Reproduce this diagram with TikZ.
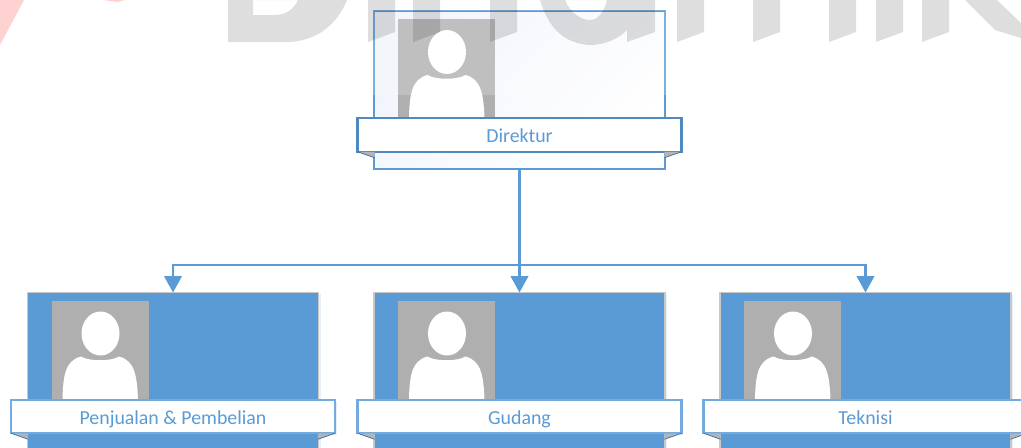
\documentclass[tikz,border=0pt]{standalone}
\usepackage{fontspec}
\setmainfont{Carlito}
\usetikzlibrary{arrows.meta,shadows}
\definecolor{cardBlue}{HTML}{5B9BD5}
\definecolor{ribbonLight}{HTML}{74ABDF}
\definecolor{ribbonDark}{HTML}{4F89C0}
\definecolor{cardEdge}{HTML}{C8C8C8}
\definecolor{photoGray}{HTML}{AFAFAF}
\definecolor{foldGray}{HTML}{B4B4B4}
\definecolor{foldLine}{HTML}{2F6DA6}
\definecolor{cardTint}{HTML}{F0F4FB}
\definecolor{pinkMark}{HTML}{FFD2D2}
\tikzset{
    card/.style={minimum width=5.82cm, minimum height=3.16cm, inner sep=0pt, outer sep=0pt},
    dirCard/.style={card, draw=cardBlue, line width=0.9pt, left color=cardTint, right color=white, shading angle=45},
    subCard/.style={card, draw=cardEdge, line width=1.1pt, fill=cardBlue,
        drop shadow={shadow xshift=0.05cm, shadow yshift=-0.03cm, fill=cardBlue, opacity=0.15}},
    photo/.style={fill=photoGray, minimum width=1.95cm, minimum height=1.98cm, inner sep=0pt, outer sep=0pt},
    ribbon/.style={line width=1.2pt, fill=white, text=cardBlue, minimum width=6.48cm,
        minimum height=0.67cm, inner sep=0pt, outer sep=0pt, text height=9.3pt, text depth=0.7pt,
        font=\fontsize{11.3}{13}\selectfont},
    dirRibbon/.style={ribbon, draw=ribbonDark},
    subRibbon/.style={ribbon, draw=ribbonLight,
        drop shadow={shadow xshift=0.04cm, shadow yshift=-0.04cm, fill=cardBlue, opacity=0.15}},
    link/.style={draw=cardBlue, line width=1.5pt},
    linkArrow/.style={link, -{Triangle[length=0.33cm, width=0.35cm]}},
    watermark/.style={fill=black, fill opacity=0.13},
}
\begin{document}
\begin{tikzpicture}[x=0.02cm, y=-0.02cm]
    \useasboundingbox (0, 0) rectangle (1021, 447);
    \clip (0, 0) rectangle (1021, 447);

    \foreach \cardname/\cardx/\cardy/\cardstyle/\ribbonstyle/\cardtext in {
        direktur/519.5/90/dirCard/dirRibbon/Direktur,
        penjualan/173/371.5/subCard/subRibbon/Penjualan \& Pembelian,
        gudang/519.5/371.5/subCard/subRibbon/Gudang,
        teknisi/865.5/371.5/subCard/subRibbon/Teknisi} {
        \node[\cardstyle] (\cardname Card) at (\cardx, \cardy) {};
        \node[photo, anchor=north west] (\cardname Photo) at (\cardx - 121.5, \cardy - 71) {};
        \fill[white] (\cardx - 72.5, \cardy - 38) ellipse [x radius=19, y radius=22];
        \fill[white] (\cardx - 110.5, \cardy + 28) .. controls (\cardx - 110, \cardy + 5) and (\cardx - 108, \cardy - 11) .. (\cardx - 92, \cardy - 15)
            .. controls (\cardx - 84, \cardy - 10) and (\cardx - 62, \cardy - 10) .. (\cardx - 54, \cardy - 15)
            .. controls (\cardx - 38, \cardy - 11) and (\cardx - 36, \cardy + 5) .. (\cardx - 35, \cardy + 28) -- cycle;
        \node[\ribbonstyle] (\cardname Ribbon) at (\cardx, \cardy + 45) {\cardtext};
        \fill[foldGray] (\cardname Ribbon.south west) -- ++(17, 0) -- ++(0, 6) -- cycle;
        \fill[foldGray] (\cardname Ribbon.south east) -- ++(-17, 0) -- ++(0, 6) -- cycle;
        \draw[foldLine] (\cardname Ribbon.south west) -- ++(17, 6);
        \draw[foldLine] (\cardname Ribbon.south east) -- ++(-17, 6);
    }
    \draw[foldLine, opacity=0.6] (direkturCard.north west) -- (direkturCard.north east);

    % connectors
    \coordinate (busPoint) at (519.5, 265);
    \draw[linkArrow] (direkturCard.south) -- (gudangCard.north);
    \draw[linkArrow] (busPoint) -| (penjualanCard.north);
    \draw[linkArrow] (busPoint) -| (teknisiCard.north);

    % background mark lying over the top
    \fill[white, fill opacity=0.2] (0, 0) rectangle (1021, 95);
    \fill[pinkMark] (0, 0) -- (24, 0) -- (0, 45) -- cycle;
    \fill[pinkMark] (103, 0) -- (125, 0) -- (118, 2) -- cycle;
    \fill[watermark, even odd rule] (228, 0) -- (228, 42) -- (290, 42) .. controls (320, 40) and (338, 22) .. (347, 0) -- cycle
        (253, 0) -- (253, 15) -- (275, 15) .. controls (286, 15) and (294, 9) .. (298, 0) -- cycle;
    \foreach \barx in {368, 413, 490, 677, 753, 829, 876, 922} {
        \fill[watermark] (\barx, 0) -- (\barx, 42) -- (\barx + 27, 32) -- (\barx + 27, 0) -- cycle;
    }
    \fill[watermark, even odd rule] (540, 0) .. controls (548, 28) and (565, 44) .. (590, 45) .. controls (605, 45) and (620, 38) .. (627, 30)
        -- (627, 42) -- (655, 32) -- (655, 0) -- cycle
        (565, 0) .. controls (570, 12) and (580, 20) .. (590, 20) .. controls (598, 20) and (604, 12) .. (607, 0) -- cycle;
    \fill[watermark] (965, 0) -- (995, 30) -- (1021, 38) -- (1021, 23) -- (997, 0) -- cycle;
\end{tikzpicture}
\end{document}
